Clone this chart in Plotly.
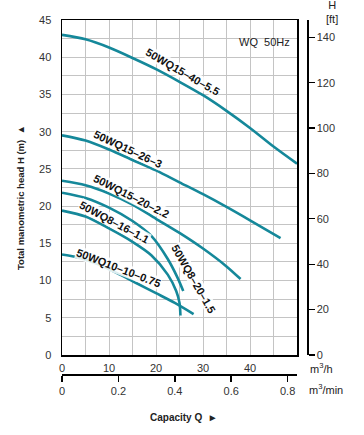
import plotly.graph_objects as go

# ---------------- data ----------------
q_15_40 = [0, 5, 10, 15, 20, 25, 30, 35, 40, 45, 50]
h_15_40 = [43.0, 42.4, 41.3, 39.9, 38.4, 36.7, 34.9, 32.8, 30.5, 28.0, 25.7]

q_15_26 = [0, 5, 10, 15, 20, 25, 30, 35, 40, 46.5]
h_15_26 = [29.5, 28.8, 27.6, 26.2, 24.8, 23.2, 21.6, 19.9, 18.1, 15.7]

q_15_20 = [0, 5, 10, 15, 20, 25, 30, 35, 38]
h_15_20 = [23.4, 22.8, 21.7, 20.2, 18.3, 16.4, 14.3, 11.9, 10.2]

q_8_20 = [0, 5, 10, 15, 19, 22.5, 24.5, 25.8]
h_8_20 = [21.8, 21.1, 19.8, 18.0, 16.0, 12.9, 10.5, 8.6]

q_8_16 = [0, 5, 10, 15, 19, 22.5, 24.3, 25.0, 25.2]
h_8_16 = [19.4, 18.6, 17.0, 15.2, 13.4, 10.8, 8.6, 7.0, 5.3]

q_10_10 = [0, 4, 8, 12, 16, 20, 24, 28]
h_10_10 = [13.5, 13.0, 12.1, 10.9, 9.6, 8.3, 7.0, 5.5]

series_names = ["50WQ15–40–5.5", "50WQ15–26–3", "50WQ15–20–2.2",
                "50WQ8–20–1.5", "50WQ8–16–1.1", "50WQ10–10–0.75"]

x_ticks_m3h = [0, 10, 20, 30, 40]
x_ticks_m3min = [0, 0.2, 0.4, 0.6, 0.8]
y_ticks_m = [0, 5, 10, 15, 20, 25, 30, 35, 40, 45]
y_ticks_ft = [0, 20, 40, 60, 80, 100, 120, 140]

# label positions (q, h, angle)
label_pos = [(25.7, 38.0, 30), (14.0, 27.7, 25), (14.7, 21.4, 27),
             (28.0, 10.2, 60), (11.1, 17.9, 28), (12.1, 11.7, 21)]

# ---------------- layout helpers ----------------
W, H = 364, 435
ML, MR, MT, MB = 62, 44, 20, 35
PW, PH = W - ML - MR, H - MT - MB


def fx(px):
    return (px - ML) / PW


def fy(py):
    return (H - MB - py) / PH


TEAL = "#15889a"
FONT = "Liberation Sans, Arial, sans-serif"

fig = go.Figure()
curves = [(q_15_40, h_15_40), (q_15_26, h_15_26), (q_15_20, h_15_20),
          (q_8_20, h_8_20), (q_8_16, h_8_16), (q_10_10, h_10_10)]
for (q, h), name in zip(curves, series_names):
    fig.add_trace(go.Scatter(x=q, y=h, mode="lines", name=name,
                             line=dict(color=TEAL, width=2.6, shape="spline", smoothing=0.8),
                             hoverinfo="skip", showlegend=False))

# invisible traces to activate secondary axes
fig.add_trace(go.Scatter(x=[0, 50 / 60], y=[0, 0], xaxis="x2", yaxis="y", mode="lines",
                         line=dict(width=0), hoverinfo="skip", showlegend=False))
fig.add_trace(go.Scatter(x=[0, 0], y=[0, 45 * 3.28084], xaxis="x", yaxis="y2", mode="lines",
                         line=dict(width=0), hoverinfo="skip", showlegend=False))

xdom = [0, fx(297)]
ydom = [fy(355), 1]
grid = "#c4c4c4"
tickfont = dict(family=FONT, size=11, color="#333")

fig.update_layout(
    width=W, height=H, margin=dict(l=ML, r=MR, t=MT, b=MB),
    paper_bgcolor="white", plot_bgcolor="white", showlegend=False,
    font=dict(family=FONT),
    xaxis=dict(domain=xdom, range=[0, 50], tickvals=x_ticks_m3h,
               showgrid=True, gridcolor=grid, gridwidth=1,
               minor=dict(dtick=5, tick0=0, showgrid=True, gridcolor=grid, gridwidth=1),
               showline=True, linecolor="black", linewidth=1.5, mirror=True,
               ticks="", zeroline=False, tickfont=tickfont, ticklabelstandoff=2,
               anchor="y", fixedrange=True),
    yaxis=dict(domain=ydom, range=[0, 45], tickvals=y_ticks_m,
               showgrid=True, gridcolor=grid, gridwidth=1,
               minor=dict(dtick=2.5, tick0=0, showgrid=True, gridcolor=grid, gridwidth=1),
               showline=True, linecolor="black", linewidth=1.5, mirror=True,
               ticks="", zeroline=False, tickfont=tickfont, ticklabelstandoff=7,
               anchor="x", fixedrange=True),
    xaxis2=dict(domain=xdom, range=[0, 50 / 60], overlaying="x", anchor="free",
                position=fy(374), side="bottom", tickvals=x_ticks_m3min,
                ticktext=["0", "0.2", "0.4", "0.6", "0.8"],
                showline=True, linecolor="black", linewidth=1.5,
                ticks="outside", ticklen=6, tickwidth=1.5, tickcolor="black",
                showgrid=False, zeroline=False, tickfont=tickfont, fixedrange=True),
    yaxis2=dict(range=[0, 45 * 3.28084], overlaying="y", anchor="free",
                position=fx(307), side="right", tickvals=y_ticks_ft,
                showline=True, linecolor="black", linewidth=1.5,
                ticks="outside", ticklen=6, tickwidth=1.2, tickcolor="black",
                showgrid=False, zeroline=False, tickfont=tickfont, fixedrange=True),
)

# curve labels
for name, (qx, hy, ang) in zip(series_names, label_pos):
    fig.add_annotation(x=qx, y=hy, xref="x", yref="y", text="<b>" + name + "</b>",
                       textangle=ang, showarrow=False, xanchor="center", yanchor="middle",
                       font=dict(family=FONT, size=11, color="#111"),
                       bgcolor="rgba(255,255,255,0.85)", borderpad=0)

# other texts
texts = [
    ("WQ  50Hz", 264, 42, "center", 11, 0),
    ("H<br>[ft]", 332, 12, "center", 11, 0),
    ("m<sup>3</sup>/h", 308, 368, "left", 11, 0),
    ("m<sup>3</sup>/min", 307, 389, "left", 11, 0),
    ("<b>Capacity Q  ►</b>", 184, 417, "center", 10, 0),
    ("<b>Total manometric head H (m)  ▲</b>", 20, 198, "center", 9.5, -90),
]
for t, px, py, xa, sz, ang in texts:
    fig.add_annotation(x=fx(px), y=fy(py), xref="paper", yref="paper", text=t,
                       showarrow=False, xanchor=xa, yanchor="middle", textangle=ang,
                       font=dict(family=FONT, size=sz, color="#222"))

fig.write_html("out.html", config={"displayModeBar": False, "staticPlot": True},
               post_script="document.body.style.margin='0px';document.body.style.padding='0px';")
